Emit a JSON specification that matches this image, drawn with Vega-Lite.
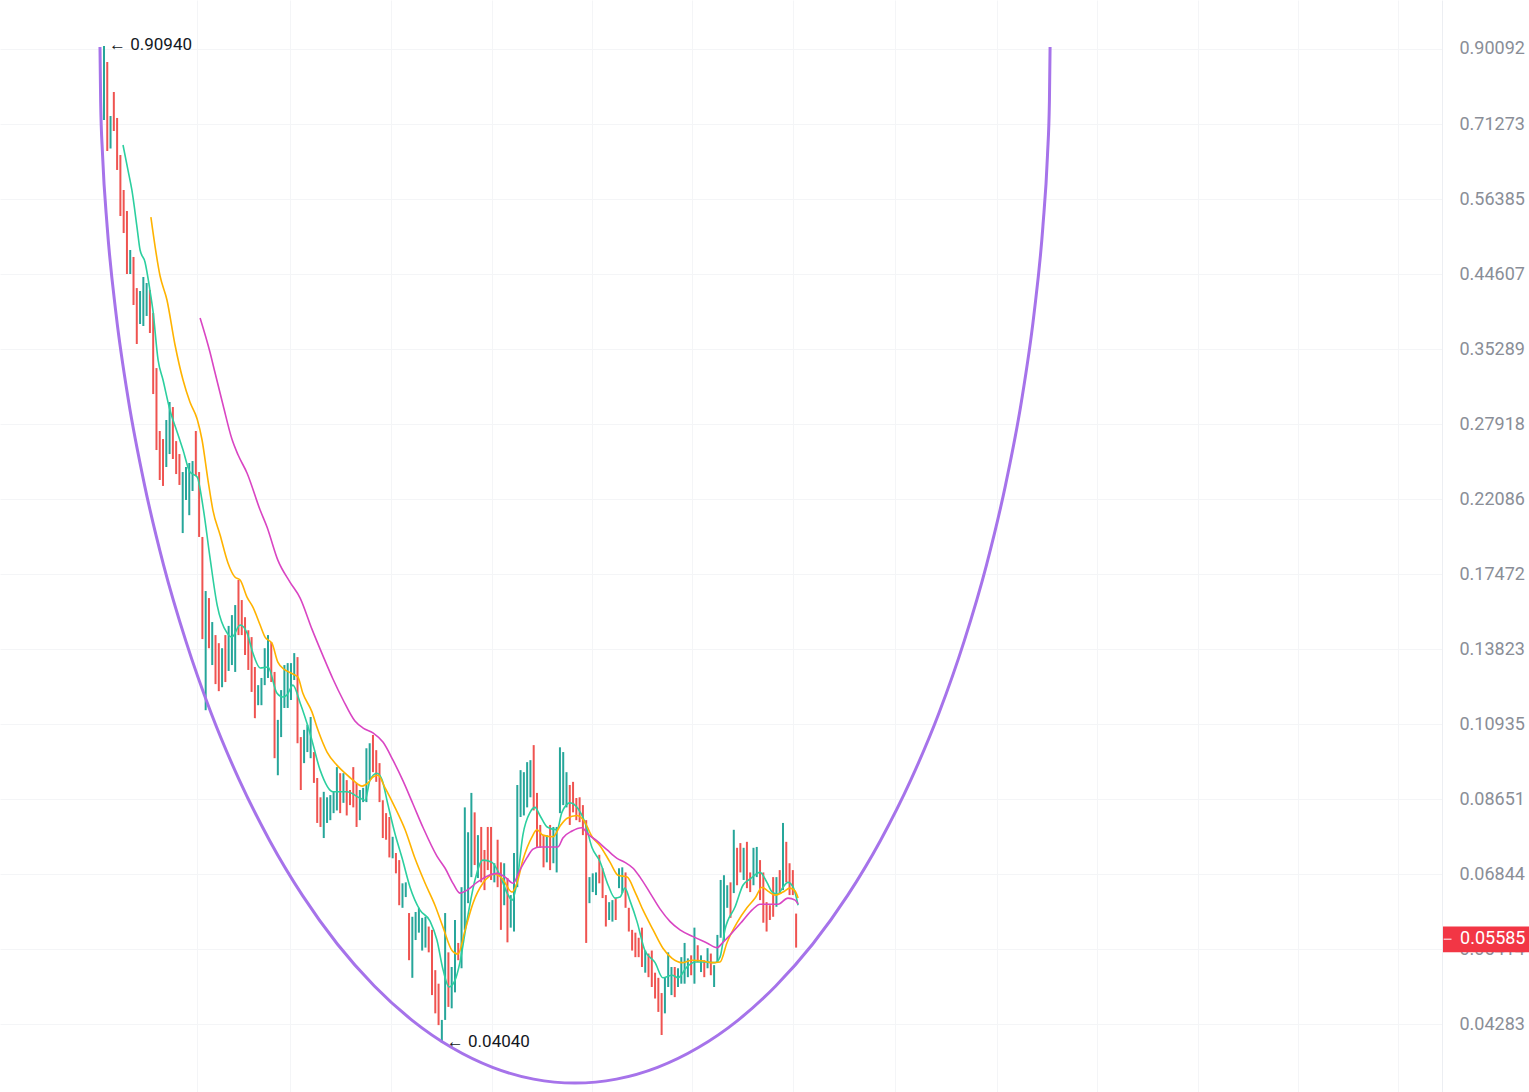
{
  "$schema": "https://vega.github.io/schema/vega-lite/v6.json",
  "width": 1442,
  "height": 1092,
  "autosize": {"type": "none"},
  "padding": {"left": 0, "top": 0, "right": 87, "bottom": 0},
  "background": "white",
  "config": {"view": {"stroke": null}, "font": "Roboto"},
  "resolve": {"scale": {"color": "independent"}},
  "datasets": {
    "bars": [
      {"t":0,"h":0.9094,"l":0.7217,"d":"up"},{"t":1,"h":0.8651,"l":0.6551,"d":"dn"},{"t":2,"h":0.7308,"l":0.6602,"d":"up"},{"t":3,"h":0.7877,"l":0.6973,"d":"dn"},{"t":4,"h":0.7263,"l":0.6174,"d":"dn"},{"t":5,"h":0.6469,"l":0.5347,"d":"dn"},{"t":6,"h":0.58,"l":0.507,"d":"dn"},{"t":7,"h":0.5431,"l":0.4461,"d":"dn"},{"t":8,"h":0.4808,"l":0.4461,"d":"up"},{"t":9,"h":0.4705,"l":0.4049,"d":"dn"},
      {"t":10,"h":0.4269,"l":0.3585,"d":"dn"},{"t":11,"h":0.423,"l":0.3816,"d":"up"},{"t":12,"h":0.4419,"l":0.3792,"d":"up"},{"t":13,"h":0.4337,"l":0.3913,"d":"up"},{"t":14,"h":0.4243,"l":0.371,"d":"dn"},{"t":15,"h":0.3949,"l":0.3066,"d":"dn"},{"t":16,"h":0.3325,"l":0.2574,"d":"dn"},{"t":17,"h":0.2732,"l":0.2344,"d":"dn"},{"t":18,"h":0.2664,"l":0.2301,"d":"dn"},{"t":19,"h":0.2827,"l":0.2441,"d":"up"},
      {"t":20,"h":0.2991,"l":0.2542,"d":"up"},{"t":21,"h":0.2944,"l":0.2503,"d":"dn"},{"t":22,"h":0.2647,"l":0.2388,"d":"dn"},{"t":23,"h":0.2542,"l":0.2308,"d":"dn"},{"t":24,"h":0.2403,"l":0.1986,"d":"up"},{"t":25,"h":0.2441,"l":0.2202,"d":"up"},{"t":26,"h":0.2472,"l":0.21,"d":"up"},{"t":27,"h":0.2487,"l":0.2265,"d":"up"},{"t":28,"h":0.2732,"l":0.2373,"d":"dn"},{"t":29,"h":0.2403,"l":0.1962,"d":"dn"},
      {"t":30,"h":0.1962,"l":0.1426,"d":"dn"},{"t":31,"h":0.1657,"l":0.1142,"d":"up"},{"t":32,"h":0.1621,"l":0.1386,"d":"dn"},{"t":33,"h":0.1504,"l":0.1315,"d":"up"},{"t":34,"h":0.1444,"l":0.1239,"d":"dn"},{"t":35,"h":0.1408,"l":0.1212,"d":"dn"},{"t":36,"h":0.1386,"l":0.1227,"d":"up"},{"t":37,"h":0.1444,"l":0.1247,"d":"dn"},{"t":38,"h":0.1486,"l":0.1291,"d":"up"},{"t":39,"h":0.1537,"l":0.1315,"d":"up"},
      {"t":40,"h":0.1586,"l":0.1287,"d":"up"},{"t":41,"h":0.1715,"l":0.1444,"d":"dn"},{"t":42,"h":0.1611,"l":0.1444,"d":"dn"},{"t":43,"h":0.1527,"l":0.1357,"d":"dn"},{"t":44,"h":0.1466,"l":0.1295,"d":"dn"},{"t":45,"h":0.1435,"l":0.1209,"d":"dn"},{"t":46,"h":0.1307,"l":0.1114,"d":"dn"},{"t":47,"h":0.1235,"l":0.116,"d":"up"},{"t":48,"h":0.1263,"l":0.116,"d":"up"},{"t":49,"h":0.1386,"l":0.1235,"d":"up"},
      {"t":50,"h":0.1444,"l":0.1263,"d":"up"},{"t":51,"h":0.1413,"l":0.1247,"d":"dn"},{"t":52,"h":0.1287,"l":0.0983,"d":"dn"},{"t":53,"h":0.1108,"l":0.0932,"d":"up"},{"t":54,"h":0.1216,"l":0.105,"d":"up"},{"t":55,"h":0.1315,"l":0.115,"d":"up"},{"t":56,"h":0.1323,"l":0.115,"d":"up"},{"t":57,"h":0.1323,"l":0.1179,"d":"up"},{"t":58,"h":0.1365,"l":0.1255,"d":"up"},{"t":59,"h":0.1348,"l":0.103,"d":"dn"},
      {"t":60,"h":0.105,"l":0.089,"d":"dn"},{"t":61,"h":0.1074,"l":0.0968,"d":"up"},{"t":62,"h":0.1091,"l":0.1002,"d":"up"},{"t":63,"h":0.1118,"l":0.0983,"d":"up"},{"t":64,"h":0.1002,"l":0.091,"d":"dn"},{"t":65,"h":0.0924,"l":0.0803,"d":"dn"},{"t":66,"h":0.087,"l":0.0793,"d":"dn"},{"t":67,"h":0.0885,"l":0.0766,"d":"up"},{"t":68,"h":0.087,"l":0.0803,"d":"up"},{"t":69,"h":0.0876,"l":0.081,"d":"up"},
      {"t":70,"h":0.0885,"l":0.0828,"d":"up"},{"t":71,"h":0.0956,"l":0.0835,"d":"up"},{"t":72,"h":0.0938,"l":0.0828,"d":"dn"},{"t":73,"h":0.0938,"l":0.0855,"d":"up"},{"t":74,"h":0.0918,"l":0.0822,"d":"dn"},{"t":75,"h":0.089,"l":0.0849,"d":"dn"},{"t":76,"h":0.0956,"l":0.0843,"d":"dn"},{"t":77,"h":0.091,"l":0.0793,"d":"dn"},{"t":78,"h":0.089,"l":0.081,"d":"up"},{"t":79,"h":0.0896,"l":0.0857,"d":"up"},
      {"t":80,"h":0.1014,"l":0.0857,"d":"up"},{"t":81,"h":0.103,"l":0.0918,"d":"up"},{"t":82,"h":0.1057,"l":0.0941,"d":"dn"},{"t":83,"h":0.1008,"l":0.0913,"d":"dn"},{"t":84,"h":0.0968,"l":0.0857,"d":"dn"},{"t":85,"h":0.0862,"l":0.0766,"d":"dn"},{"t":86,"h":0.0828,"l":0.0762,"d":"dn"},{"t":87,"h":0.0818,"l":0.0721,"d":"dn"},{"t":88,"h":0.0769,"l":0.0719,"d":"up"},{"t":89,"h":0.0731,"l":0.0686,"d":"dn"},
      {"t":90,"h":0.0715,"l":0.0621,"d":"dn"},{"t":91,"h":0.0665,"l":0.0616,"d":"up"},{"t":92,"h":0.0667,"l":0.0637,"d":"up"},{"t":93,"h":0.0606,"l":0.0523,"d":"dn"},{"t":94,"h":0.0599,"l":0.0495,"d":"up"},{"t":95,"h":0.0608,"l":0.0557,"d":"up"},{"t":96,"h":0.0616,"l":0.057,"d":"up"},{"t":97,"h":0.0597,"l":0.0539,"d":"up"},{"t":98,"h":0.0599,"l":0.0544,"d":"up"},{"t":99,"h":0.0581,"l":0.0536,"d":"dn"},
      {"t":100,"h":0.0575,"l":0.0469,"d":"dn"},{"t":101,"h":0.0507,"l":0.0443,"d":"dn"},{"t":102,"h":0.0486,"l":0.0427,"d":"dn"},{"t":103,"h":0.0434,"l":0.0404,"d":"up"},{"t":104,"h":0.0606,"l":0.0434,"d":"up"},{"t":105,"h":0.0536,"l":0.0452,"d":"dn"},{"t":106,"h":0.0512,"l":0.045,"d":"up"},{"t":107,"h":0.0593,"l":0.0473,"d":"up"},{"t":108,"h":0.0552,"l":0.0523,"d":"dn"},{"t":109,"h":0.0657,"l":0.051,"d":"up"},
      {"t":110,"h":0.0843,"l":0.0575,"d":"up"},{"t":111,"h":0.078,"l":0.0625,"d":"up"},{"t":112,"h":0.0882,"l":0.0678,"d":"up"},{"t":113,"h":0.083,"l":0.0704,"d":"dn"},{"t":114,"h":0.0773,"l":0.0676,"d":"up"},{"t":115,"h":0.0793,"l":0.0667,"d":"dn"},{"t":116,"h":0.0738,"l":0.0651,"d":"dn"},{"t":117,"h":0.0793,"l":0.0693,"d":"dn"},{"t":118,"h":0.0793,"l":0.0672,"d":"dn"},{"t":119,"h":0.0708,"l":0.0667,"d":"up"},
      {"t":120,"h":0.0762,"l":0.0657,"d":"dn"},{"t":121,"h":0.071,"l":0.0575,"d":"dn"},{"t":122,"h":0.0708,"l":0.0621,"d":"up"},{"t":123,"h":0.0676,"l":0.0553,"d":"dn"},{"t":124,"h":0.0641,"l":0.0579,"d":"up"},{"t":125,"h":0.0731,"l":0.0572,"d":"up"},{"t":126,"h":0.0904,"l":0.0657,"d":"up"},{"t":127,"h":0.0947,"l":0.0818,"d":"up"},{"t":128,"h":0.0941,"l":0.0822,"d":"up"},{"t":129,"h":0.0971,"l":0.0843,"d":"up"},
      {"t":130,"h":0.0977,"l":0.087,"d":"up"},{"t":131,"h":0.1024,"l":0.0835,"d":"dn"},{"t":132,"h":0.0882,"l":0.0745,"d":"dn"},{"t":133,"h":0.0798,"l":0.0743,"d":"dn"},{"t":134,"h":0.0773,"l":0.0699,"d":"dn"},{"t":135,"h":0.0773,"l":0.071,"d":"up"},{"t":136,"h":0.0798,"l":0.0693,"d":"dn"},{"t":137,"h":0.0793,"l":0.0708,"d":"up"},{"t":138,"h":0.0793,"l":0.0688,"d":"up"},{"t":139,"h":0.1017,"l":0.0828,"d":"up"},
      {"t":140,"h":0.1002,"l":0.0849,"d":"up"},{"t":141,"h":0.0941,"l":0.0843,"d":"up"},{"t":142,"h":0.0904,"l":0.0798,"d":"dn"},{"t":143,"h":0.0913,"l":0.083,"d":"dn"},{"t":144,"h":0.0868,"l":0.081,"d":"dn"},{"t":145,"h":0.087,"l":0.0805,"d":"dn"},{"t":146,"h":0.0849,"l":0.0773,"d":"dn"},{"t":147,"h":0.081,"l":0.0552,"d":"dn"},{"t":148,"h":0.0678,"l":0.0625,"d":"up"},{"t":149,"h":0.0686,"l":0.0647,"d":"up"},
      {"t":150,"h":0.0688,"l":0.0641,"d":"up"},{"t":151,"h":0.0727,"l":0.0665,"d":"dn"},{"t":152,"h":0.0697,"l":0.0635,"d":"dn"},{"t":153,"h":0.0641,"l":0.0581,"d":"dn"},{"t":154,"h":0.0627,"l":0.0593,"d":"up"},{"t":155,"h":0.0631,"l":0.059,"d":"up"},{"t":156,"h":0.0635,"l":0.0593,"d":"dn"},{"t":157,"h":0.0697,"l":0.0655,"d":"up"},{"t":158,"h":0.0699,"l":0.0645,"d":"up"},{"t":159,"h":0.0688,"l":0.0616,"d":"dn"},
      {"t":160,"h":0.0616,"l":0.0572,"d":"dn"},{"t":161,"h":0.0575,"l":0.0539,"d":"dn"},{"t":162,"h":0.057,"l":0.0528,"d":"dn"},{"t":163,"h":0.0561,"l":0.0528,"d":"dn"},{"t":164,"h":0.0579,"l":0.0512,"d":"dn"},{"t":165,"h":0.0539,"l":0.0503,"d":"up"},{"t":166,"h":0.0534,"l":0.0496,"d":"dn"},{"t":167,"h":0.0539,"l":0.0481,"d":"dn"},{"t":168,"h":0.0503,"l":0.0464,"d":"dn"},{"t":169,"h":0.0495,"l":0.0445,"d":"dn"},
      {"t":170,"h":0.0472,"l":0.0414,"d":"dn"},{"t":171,"h":0.0496,"l":0.0443,"d":"up"},{"t":172,"h":0.0536,"l":0.0481,"d":"up"},{"t":173,"h":0.0512,"l":0.0469,"d":"up"},{"t":174,"h":0.0512,"l":0.0466,"d":"dn"},{"t":175,"h":0.051,"l":0.0481,"d":"up"},{"t":176,"h":0.0528,"l":0.0486,"d":"up"},{"t":177,"h":0.0552,"l":0.0486,"d":"up"},{"t":178,"h":0.0526,"l":0.0496,"d":"up"},{"t":179,"h":0.0531,"l":0.0499,"d":"dn"},
      {"t":180,"h":0.0579,"l":0.0486,"d":"up"},{"t":181,"h":0.0548,"l":0.052,"d":"dn"},{"t":182,"h":0.0531,"l":0.0504,"d":"up"},{"t":183,"h":0.0523,"l":0.0496,"d":"dn"},{"t":184,"h":0.0543,"l":0.051,"d":"up"},{"t":185,"h":0.0534,"l":0.0499,"d":"dn"},{"t":186,"h":0.0515,"l":0.0481,"d":"up"},{"t":187,"h":0.0566,"l":0.052,"d":"up"},{"t":188,"h":0.0672,"l":0.0561,"d":"up"},{"t":189,"h":0.0682,"l":0.0557,"d":"up"},
      {"t":190,"h":0.0661,"l":0.0616,"d":"up"},{"t":191,"h":0.0667,"l":0.0597,"d":"dn"},{"t":192,"h":0.0786,"l":0.0645,"d":"up"},{"t":193,"h":0.0743,"l":0.0661,"d":"dn"},{"t":194,"h":0.0754,"l":0.0688,"d":"dn"},{"t":195,"h":0.0743,"l":0.0672,"d":"up"},{"t":196,"h":0.0757,"l":0.0655,"d":"dn"},{"t":197,"h":0.0688,"l":0.0647,"d":"dn"},{"t":198,"h":0.0743,"l":0.0661,"d":"up"},{"t":199,"h":0.0745,"l":0.0678,"d":"up"},
      {"t":200,"h":0.0715,"l":0.0631,"d":"dn"},{"t":201,"h":0.0688,"l":0.0588,"d":"dn"},{"t":202,"h":0.0627,"l":0.0572,"d":"dn"},{"t":203,"h":0.0621,"l":0.0593,"d":"dn"},{"t":204,"h":0.0678,"l":0.0599,"d":"dn"},{"t":205,"h":0.0678,"l":0.0618,"d":"up"},{"t":206,"h":0.0693,"l":0.0645,"d":"dn"},{"t":207,"h":0.0803,"l":0.0651,"d":"up"},{"t":208,"h":0.0757,"l":0.0667,"d":"dn"},{"t":209,"h":0.0708,"l":0.0641,"d":"dn"},
      {"t":210,"h":0.0693,"l":0.0641,"d":"dn"},{"t":211,"h":0.0605,"l":0.0544,"d":"dn"}
    ],
    "ma": [
      {"s":"fast","t":5.8,"p":0.6675},{"s":"fast","t":7.3,"p":0.6174},{"s":"fast","t":8.5,"p":0.58},{"s":"fast","t":10.1,"p":0.515},{"s":"fast","t":11,"p":0.4808},{"s":"fast","t":12.5,"p":0.4631},{"s":"fast","t":14,"p":0.4243},{"s":"fast","t":14.9,"p":0.3987},{"s":"fast","t":16.5,"p":0.3409},{"s":"fast","t":18,"p":0.3203},
      {"s":"fast","t":20.1,"p":0.2917},{"s":"fast","t":22.3,"p":0.2723},{"s":"fast","t":24.1,"p":0.2574},{"s":"fast","t":26.2,"p":0.2403},{"s":"fast","t":28.4,"p":0.2366},{"s":"fast","t":30.2,"p":0.2154},{"s":"fast","t":32.3,"p":0.1842},{"s":"fast","t":34.5,"p":0.1586},{"s":"fast","t":37.5,"p":0.1454},{"s":"fast","t":39,"p":0.1435},
      {"s":"fast","t":41.5,"p":0.149},{"s":"fast","t":43.6,"p":0.1454},{"s":"fast","t":45.4,"p":0.1365},{"s":"fast","t":47.6,"p":0.1303},{"s":"fast","t":50,"p":0.1307},{"s":"fast","t":52.7,"p":0.1205},{"s":"fast","t":54.6,"p":0.119},{"s":"fast","t":55.8,"p":0.1198},{"s":"fast","t":57.6,"p":0.1235},{"s":"fast","t":59.8,"p":0.1168},
      {"s":"fast","t":62.8,"p":0.1063},{"s":"fast","t":65.9,"p":0.0947},{"s":"fast","t":69.8,"p":0.0885},{"s":"fast","t":74.1,"p":0.0885},{"s":"fast","t":78,"p":0.0868},{"s":"fast","t":79.6,"p":0.0862},{"s":"fast","t":81.1,"p":0.0918},{"s":"fast","t":83.2,"p":0.0938},{"s":"fast","t":84.8,"p":0.0918},{"s":"fast","t":86.6,"p":0.0849},
      {"s":"fast","t":88.7,"p":0.0777},{"s":"fast","t":90.9,"p":0.0719},{"s":"fast","t":93.3,"p":0.0657},{"s":"fast","t":96.3,"p":0.0612},{"s":"fast","t":99.4,"p":0.0591},{"s":"fast","t":101.5,"p":0.0557},{"s":"fast","t":103.4,"p":0.0507},{"s":"fast","t":105.2,"p":0.0481},{"s":"fast","t":107,"p":0.0491},{"s":"fast","t":108.5,"p":0.0519},
      {"s":"fast","t":110.7,"p":0.0593},{"s":"fast","t":113.1,"p":0.0672},{"s":"fast","t":115.5,"p":0.0715},{"s":"fast","t":118.3,"p":0.071},{"s":"fast","t":120.7,"p":0.0682},{"s":"fast","t":122.9,"p":0.0645},{"s":"fast","t":124.4,"p":0.0631},{"s":"fast","t":125.9,"p":0.0667},{"s":"fast","t":127.7,"p":0.0773},{"s":"fast","t":129.9,"p":0.083},
      {"s":"fast","t":131.4,"p":0.0843},{"s":"fast","t":132.9,"p":0.0822},{"s":"fast","t":135.1,"p":0.0793},{"s":"fast","t":138.1,"p":0.0786},{"s":"fast","t":139.6,"p":0.083},{"s":"fast","t":142.1,"p":0.0855},{"s":"fast","t":144.5,"p":0.084},{"s":"fast","t":146.6,"p":0.0805},{"s":"fast","t":148.8,"p":0.0743},{"s":"fast","t":151.2,"p":0.0712},
      {"s":"fast","t":153.7,"p":0.0661},{"s":"fast","t":155.8,"p":0.0635},{"s":"fast","t":157.3,"p":0.0637},{"s":"fast","t":158.8,"p":0.0655},{"s":"fast","t":160.4,"p":0.0629},{"s":"fast","t":162.5,"p":0.059},{"s":"fast","t":164.9,"p":0.0539},{"s":"fast","t":168,"p":0.0519},{"s":"fast","t":170.4,"p":0.0495},{"s":"fast","t":173.2,"p":0.0499},
      {"s":"fast","t":175,"p":0.0495},{"s":"fast","t":177.7,"p":0.0512},{"s":"fast","t":180.2,"p":0.052},{"s":"fast","t":183.2,"p":0.052},{"s":"fast","t":186.3,"p":0.0519},{"s":"fast","t":187.8,"p":0.0528},{"s":"fast","t":189.3,"p":0.0575},{"s":"fast","t":192.4,"p":0.0618},{"s":"fast","t":194.8,"p":0.0661},{"s":"fast","t":197,"p":0.0674},
      {"s":"fast","t":200,"p":0.0688},{"s":"fast","t":202.1,"p":0.0667},{"s":"fast","t":203.7,"p":0.0647},{"s":"fast","t":205.5,"p":0.0643},{"s":"fast","t":207,"p":0.0657},{"s":"fast","t":208.5,"p":0.0667},{"s":"fast","t":210.1,"p":0.0657},{"s":"fast","t":211.6,"p":0.0621},
      {"s":"mid","t":14.3,"p":0.533},{"s":"mid","t":17.1,"p":0.4433},{"s":"mid","t":19.2,"p":0.4113},{"s":"mid","t":21.6,"p":0.3585},{"s":"mid","t":24.1,"p":0.3203},{"s":"mid","t":26.2,"p":0.2991},{"s":"mid","t":28.4,"p":0.2836},{"s":"mid","t":29.9,"p":0.2656},{"s":"mid","t":31.7,"p":0.2344},{"s":"mid","t":33.2,"p":0.2134},
      {"s":"mid","t":35.4,"p":0.1974},{"s":"mid","t":37.8,"p":0.1809},{"s":"mid","t":39.9,"p":0.1731},{"s":"mid","t":41.5,"p":0.1715},{"s":"mid","t":43.6,"p":0.1626},{"s":"mid","t":45.4,"p":0.1576},{"s":"mid","t":47.6,"p":0.149},{"s":"mid","t":49.1,"p":0.1435},{"s":"mid","t":51.2,"p":0.1408},{"s":"mid","t":53,"p":0.1327},
      {"s":"mid","t":55.2,"p":0.1295},{"s":"mid","t":57.6,"p":0.1279},{"s":"mid","t":59.1,"p":0.1267},{"s":"mid","t":60.6,"p":0.1205},{"s":"mid","t":63.4,"p":0.1136},{"s":"mid","t":65.2,"p":0.1074},{"s":"mid","t":68,"p":0.1002},{"s":"mid","t":71,"p":0.0962},{"s":"mid","t":73.5,"p":0.0938},{"s":"mid","t":75.9,"p":0.0918},
      {"s":"mid","t":78.7,"p":0.0901},{"s":"mid","t":80.5,"p":0.091},{"s":"mid","t":82,"p":0.0927},{"s":"mid","t":83.5,"p":0.0932},{"s":"mid","t":85.7,"p":0.0896},{"s":"mid","t":88.7,"p":0.0843},{"s":"mid","t":91.8,"p":0.0786},{"s":"mid","t":94.8,"p":0.0719},{"s":"mid","t":97.9,"p":0.0665},{"s":"mid","t":100.9,"p":0.0621},
      {"s":"mid","t":103.4,"p":0.0579},{"s":"mid","t":106.1,"p":0.0539},{"s":"mid","t":107.9,"p":0.0533},{"s":"mid","t":110.1,"p":0.0575},{"s":"mid","t":112.5,"p":0.0625},{"s":"mid","t":115.5,"p":0.0665},{"s":"mid","t":119.2,"p":0.0684},{"s":"mid","t":121.3,"p":0.0676},{"s":"mid","t":124.4,"p":0.0647},{"s":"mid","t":125.9,"p":0.0665},
      {"s":"mid","t":127.7,"p":0.0715},{"s":"mid","t":130.5,"p":0.0769},{"s":"mid","t":132,"p":0.0786},{"s":"mid","t":133.8,"p":0.0773},{"s":"mid","t":136.9,"p":0.0769},{"s":"mid","t":139,"p":0.0795},{"s":"mid","t":141.2,"p":0.0815},{"s":"mid","t":144.2,"p":0.0822},{"s":"mid","t":146.6,"p":0.0805},{"s":"mid","t":148.8,"p":0.0769},
      {"s":"mid","t":151.2,"p":0.0748},{"s":"mid","t":154.3,"p":0.071},{"s":"mid","t":156.7,"p":0.0682},{"s":"mid","t":159.5,"p":0.0678},{"s":"mid","t":161.9,"p":0.0647},{"s":"mid","t":164.3,"p":0.0612},{"s":"mid","t":167.4,"p":0.0575},{"s":"mid","t":170.4,"p":0.0543},{"s":"mid","t":173.2,"p":0.0526},{"s":"mid","t":176.2,"p":0.0519},
      {"s":"mid","t":179.3,"p":0.0523},{"s":"mid","t":182.3,"p":0.0522},{"s":"mid","t":185.4,"p":0.0519},{"s":"mid","t":187.8,"p":0.052},{"s":"mid","t":189.9,"p":0.0552},{"s":"mid","t":193,"p":0.0588},{"s":"mid","t":196,"p":0.0616},{"s":"mid","t":198.5,"p":0.0635},{"s":"mid","t":200.6,"p":0.0657},{"s":"mid","t":202.4,"p":0.0649},
      {"s":"mid","t":204.6,"p":0.0641},{"s":"mid","t":207,"p":0.0647},{"s":"mid","t":209.1,"p":0.0655},{"s":"mid","t":210.7,"p":0.0649},{"s":"mid","t":211.6,"p":0.0635},
      {"s":"slow","t":29.3,"p":0.3888},{"s":"slow","t":32.3,"p":0.3496},{"s":"slow","t":33.8,"p":0.3284},{"s":"slow","t":36.3,"p":0.2963},{"s":"slow","t":39,"p":0.2664},{"s":"slow","t":40.9,"p":0.2534},{"s":"slow","t":43.6,"p":0.2396},{"s":"slow","t":47.6,"p":0.2134},{"s":"slow","t":49.7,"p":0.2024},{"s":"slow","t":53,"p":0.1825},
      {"s":"slow","t":56.7,"p":0.1704},{"s":"slow","t":59.8,"p":0.1621},{"s":"slow","t":63.4,"p":0.1471},{"s":"slow","t":66.8,"p":0.1352},{"s":"slow","t":69.8,"p":0.1259},{"s":"slow","t":72.9,"p":0.1179},{"s":"slow","t":76.5,"p":0.1104},{"s":"slow","t":79,"p":0.108},{"s":"slow","t":82,"p":0.1064},{"s":"slow","t":85.1,"p":0.1033},
      {"s":"slow","t":88.1,"p":0.0977},{"s":"slow","t":91.2,"p":0.0915},{"s":"slow","t":94.2,"p":0.0852},{"s":"slow","t":97.3,"p":0.0791},{"s":"slow","t":101.5,"p":0.0724},{"s":"slow","t":104,"p":0.0697},{"s":"slow","t":106.4,"p":0.0665},{"s":"slow","t":108.5,"p":0.0645},{"s":"slow","t":110.7,"p":0.0651},{"s":"slow","t":113.7,"p":0.0667},
      {"s":"slow","t":116.8,"p":0.068},{"s":"slow","t":119.8,"p":0.0686},{"s":"slow","t":122.3,"p":0.0678},{"s":"slow","t":124.7,"p":0.0665},{"s":"slow","t":126.8,"p":0.0693},{"s":"slow","t":129,"p":0.0721},{"s":"slow","t":130.8,"p":0.074},{"s":"slow","t":132.9,"p":0.0745},{"s":"slow","t":136,"p":0.0745},{"s":"slow","t":138.4,"p":0.0745},
      {"s":"slow","t":139.9,"p":0.0766},{"s":"slow","t":142.7,"p":0.0783},{"s":"slow","t":145.7,"p":0.0791},{"s":"slow","t":147.6,"p":0.0775},{"s":"slow","t":150.3,"p":0.0759},{"s":"slow","t":153.4,"p":0.0738},{"s":"slow","t":156.4,"p":0.0719},{"s":"slow","t":158.8,"p":0.071},{"s":"slow","t":161.3,"p":0.0697},{"s":"slow","t":163.4,"p":0.0678},
      {"s":"slow","t":166.5,"p":0.0645},{"s":"slow","t":169.5,"p":0.0614},{"s":"slow","t":172.6,"p":0.059},{"s":"slow","t":175.6,"p":0.0575},{"s":"slow","t":179.6,"p":0.0563},{"s":"slow","t":183.8,"p":0.0552},{"s":"slow","t":186.9,"p":0.0544},{"s":"slow","t":188.7,"p":0.0553},{"s":"slow","t":191.5,"p":0.057},{"s":"slow","t":194.5,"p":0.059},
      {"s":"slow","t":197.6,"p":0.0612},{"s":"slow","t":200,"p":0.0623},{"s":"slow","t":202.4,"p":0.0623},{"s":"slow","t":205.5,"p":0.0623},{"s":"slow","t":208.5,"p":0.0635},{"s":"slow","t":210.7,"p":0.0631},{"s":"slow","t":211.6,"p":0.0623}
    ],
    "curve": [
      {"t":-1.22,"p":0.9066},{"t":-1.02,"p":0.7654},{"t":-0.43,"p":0.6464},{"t":0.98,"p":0.5168},{"t":3.72,"p":0.3923},{"t":7.5,"p":0.2997},{"t":12.35,"p":0.2309},{"t":18.17,"p":0.1797},{"t":24.97,"p":0.1417},{"t":32.65,"p":0.1132},
      {"t":41.19,"p":0.09193},{"t":50.52,"p":0.07597},{"t":60.55,"p":0.06398},{"t":71.19,"p":0.05497},{"t":82.41,"p":0.04826},{"t":94.05,"p":0.04331},{"t":106.13,"p":0.03978},{"t":118.45,"p":0.03742},{"t":130.98,"p":0.03607},{"t":143.6,"p":0.03563},
      {"t":156.22,"p":0.03607},{"t":168.75,"p":0.03742},{"t":181.07,"p":0.03978},{"t":193.15,"p":0.04331},{"t":204.79,"p":0.04826},{"t":216.01,"p":0.05497},{"t":226.65,"p":0.06398},{"t":236.68,"p":0.07597},{"t":246.01,"p":0.09193},{"t":254.55,"p":0.1132},
      {"t":262.23,"p":0.1417},{"t":269.03,"p":0.1797},{"t":274.85,"p":0.2309},{"t":279.7,"p":0.2997},{"t":283.48,"p":0.3923},{"t":286.22,"p":0.5168},{"t":287.63,"p":0.6464},{"t":288.22,"p":0.7654},{"t":288.42,"p":0.9066}
    ],
    "notes": [
      {"t":0,"p":0.9094,"label":"← 0.90940"},
      {"t":103,"p":0.0404,"label":"← 0.04040"}
    ],
    "last": [{"p":0.05585}]
  },
  "layer": [
    {
      "data": {"name": "bars"},
      "mark": {"type": "rule", "strokeWidth": 2},
      "encoding": {
        "x": {"field": "t", "type": "quantitative", "title": null,
              "scale": {"domain": [-31.7, 407.9], "nice": false, "zero": false},
              "axis": {"orient": "bottom", "values": [28.4, 56.7, 87.5, 118.3, 148.8, 179.3, 210.1, 241.2, 272.3, 302.7, 333.5, 364, 394.5],
                       "labels": false, "ticks": false, "domain": false, "grid": true, "gridColor": "#f4f5f7", "gridWidth": 1, "title": null}},
        "y": {"field": "l", "type": "quantitative", "title": null,
              "scale": {"type": "log", "domain": [0.03465, 1.0499], "nice": false, "zero": false},
              "axis": {"orient": "right", "values": [0.04283, 0.05414, 0.06844, 0.08651, 0.10935, 0.13823, 0.17472, 0.22086, 0.27918, 0.35289, 0.44607, 0.56385, 0.71273, 0.90092],
                       "format": ".5f", "labelFont": "Roboto", "labelFontSize": 18, "labelColor": "#8a8e97", "labelPadding": 17,
                       "ticks": false, "domain": true, "domainColor": "#eceef2", "domainWidth": 1,
                       "grid": true, "gridColor": "#f4f5f7", "gridWidth": 1, "title": null}},
        "y2": {"field": "h"},
        "color": {"field": "d", "type": "nominal", "legend": null,
                  "scale": {"domain": ["up", "dn"], "range": ["#26a69a", "#ef5350"]}}
      }
    },
    {
      "mark": {"type": "rule", "color": "#f23645", "strokeWidth": 1, "strokeDash": [7, 8]},
      "encoding": {
        "y": {"datum": 0.05585, "type": "quantitative", "title": null}
      }
    },
    {
      "data": {"name": "ma"},
      "mark": {"type": "line", "strokeWidth": 1.6, "interpolate": "monotone"},
      "encoding": {
        "x": {"field": "t", "type": "quantitative", "title": null},
        "y": {"field": "p", "type": "quantitative", "title": null},
        "color": {"field": "s", "type": "nominal", "legend": null,
                  "scale": {"domain": ["fast", "mid", "slow"], "range": ["#2ccf9f", "#ffb300", "#d945c3"]}}
      }
    },
    {
      "data": {"name": "curve"},
      "mark": {"type": "line", "color": "#a673ea", "strokeWidth": 3, "interpolate": "monotone"},
      "encoding": {
        "x": {"field": "t", "type": "quantitative", "title": null},
        "y": {"field": "p", "type": "quantitative", "title": null}
      }
    },
    {
      "data": {"name": "notes"},
      "mark": {"type": "text", "align": "left", "baseline": "middle", "dx": 5, "dy": -1, "fontSize": 17, "font": "Roboto", "color": "#131722"},
      "encoding": {
        "x": {"field": "t", "type": "quantitative", "title": null},
        "y": {"field": "p", "type": "quantitative", "title": null},
        "text": {"field": "label"}
      }
    },
    {
      "data": {"name": "last"},
      "mark": {"type": "rect", "color": "#f23645"},
      "encoding": {
        "x": {"datum": 408.2, "type": "quantitative"},
        "x2": {"datum": 435},
        "y": {"datum": 0.0581, "type": "quantitative"},
        "y2": {"datum": 0.0536}
      }
    },
    {
      "data": {"name": "last"},
      "mark": {"type": "rule", "color": "white", "strokeWidth": 1},
      "encoding": {
        "x": {"datum": 408.4, "type": "quantitative"},
        "x2": {"datum": 410.8},
        "y": {"field": "p", "type": "quantitative", "title": null}
      }
    },
    {
      "data": {"name": "last"},
      "mark": {"type": "text", "align": "left", "baseline": "middle", "fontSize": 18, "font": "Roboto", "color": "white"},
      "encoding": {
        "x": {"datum": 413.4, "type": "quantitative"},
        "y": {"field": "p", "type": "quantitative", "title": null},
        "text": {"field": "p", "type": "quantitative", "format": ".5f"}
      }
    }
  ]
}
